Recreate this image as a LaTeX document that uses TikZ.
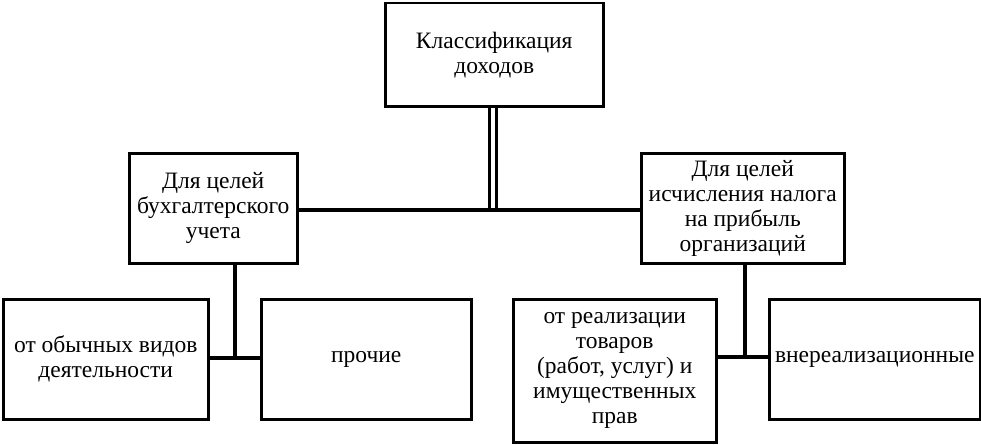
\documentclass[tikz,border=0pt]{standalone}
\usepackage{fontspec}
\setmainfont{Liberation Serif}
\usetikzlibrary{calc}
\begin{document}
\begin{tikzpicture}[x=1pt, y=-1pt,
    class box/.style={draw, line width=2.5pt, align=center, font=\fontsize{23.5}{25}\selectfont, inner sep=1pt},
    link/.style={line width=3.5pt}
  ]
  \useasboundingbox (0,0) rectangle (981,444);
  % top
  \node [class box, minimum width=218pt, minimum height=103pt, anchor=north west] (top) at (384,2) {Классификация\\доходов};
  % second level
  \node [class box, minimum width=168pt, minimum height=110pt, anchor=north west] (acc) at (128,152) {Для целей\\бухгалтерского\\учета};
  \node [class box, minimum width=203pt, minimum height=110pt, anchor=north west] (tax) at (640,152) {Для целей\\исчисления налога\\на прибыль\\организаций};
  % third level
  \node [class box, minimum width=205pt, minimum height=120pt, anchor=north west] (usual) at (2,298) {от обычных видов\\деятельности};
  \node [class box, minimum width=210pt, minimum height=120pt, anchor=north west] (other) at (260,298) {прочие};
  \node [class box, minimum width=203pt, minimum height=143pt, anchor=north west] (sale) at (512,298) {от реализации\\товаров\\(работ, услуг) и\\имущественных\\прав};
  \node [class box, minimum width=211pt, minimum height=120pt, anchor=north west] (nonsale) at (768,298) {внереализационные};

  \coordinate (mid) at (493,210);
  \draw [double, double distance=4pt, line width=3pt] (top.south -| mid) -- (mid);
  \draw [link] (acc.east |- mid) -- (tax.west |- mid);
  \coordinate (accjoin) at (235,358);
  \draw [link] (accjoin |- acc.south) -- (accjoin);
  \draw [link] (usual.east |- accjoin) -- (other.west |- accjoin);
  \coordinate (taxjoin) at (745,357);
  \draw [link] (taxjoin |- tax.south) -- (taxjoin);
  \draw [link] (sale.east |- taxjoin) -- (nonsale.west |- taxjoin);
\end{tikzpicture}
\end{document}
